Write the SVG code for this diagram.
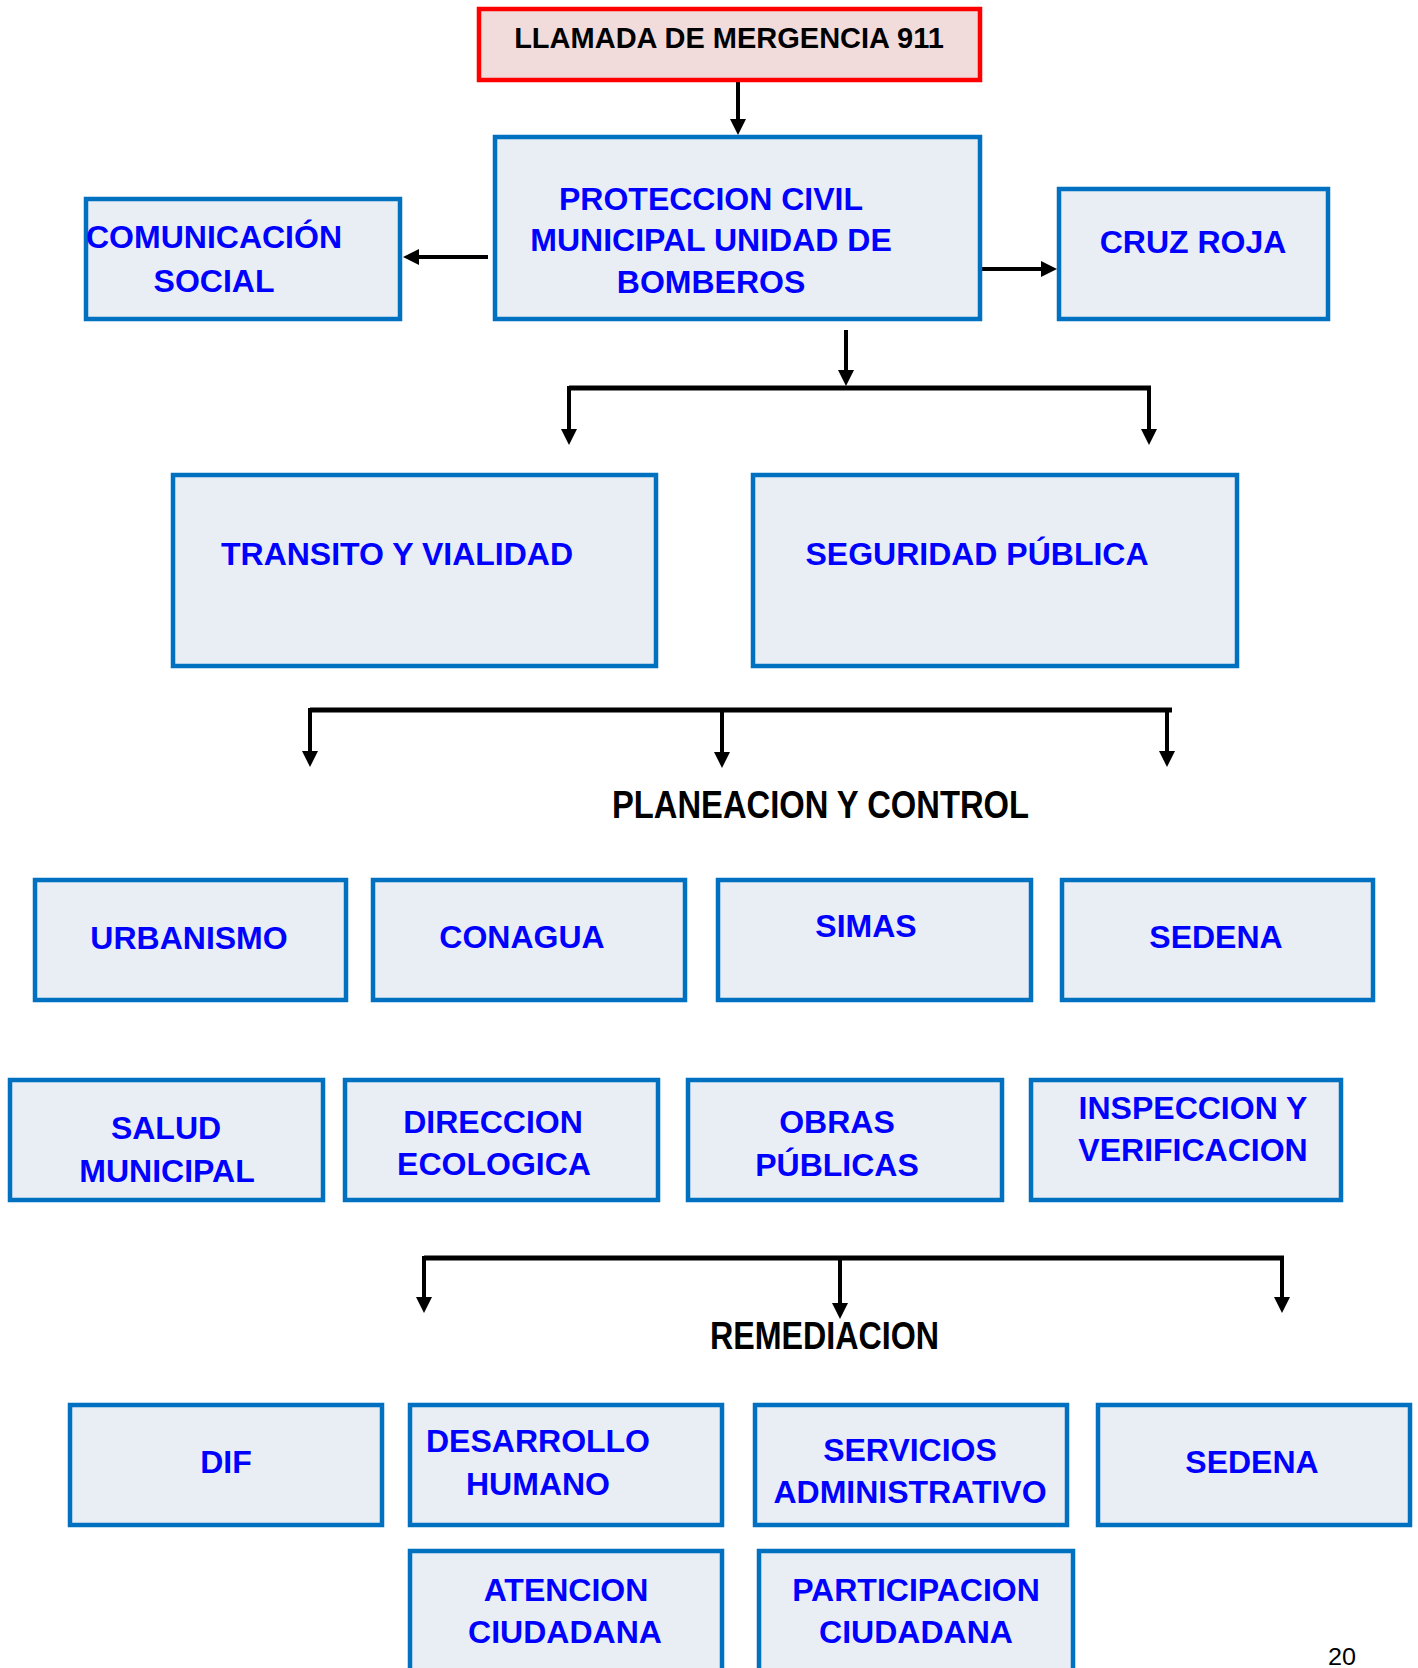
<svg xmlns="http://www.w3.org/2000/svg" width="1418" height="1668" viewBox="0 0 1418 1668">
<defs>
<style>
.box{fill:#E9EEF5;stroke:#0070C0;stroke-width:4.5}
.red{fill:#F2DCDB;stroke:#FF0000;stroke-width:4.5}
.t{font-family:"Liberation Sans",Arial,sans-serif;font-weight:bold;font-size:32px;fill:#0000FF;text-anchor:middle}
.tb{font-family:"Liberation Sans",Arial,sans-serif;font-weight:bold;font-size:29px;fill:#000;text-anchor:middle}
.lbl{font-family:"Liberation Sans Narrow","Liberation Sans",Arial,sans-serif;font-weight:bold;font-size:39px;fill:#000}
.pg{font-family:"Liberation Sans Narrow","Liberation Sans",Arial,sans-serif;font-size:24px;fill:#000}
.c{fill:none;stroke:#000;stroke-width:4}
.bar{fill:none;stroke:#000;stroke-width:5}
</style>
<marker id="ah" viewBox="0 0 16 16" refX="2" refY="8" markerWidth="16" markerHeight="16" markerUnits="userSpaceOnUse" orient="auto">
<path d="M0,0 L16,8 L0,16 Z" fill="#000"/>
</marker>
</defs>

<g id="connectors">
<line class="c" x1="738" y1="82" x2="738" y2="121" marker-end="url(#ah)"/>
<line class="c" x1="488" y1="257" x2="417" y2="257" marker-end="url(#ah)"/>
<line class="c" x1="982" y1="269" x2="1043" y2="269" marker-end="url(#ah)"/>
<line class="c" x1="846" y1="330" x2="846" y2="372" marker-end="url(#ah)"/>
<line class="bar" x1="569" y1="388" x2="1151" y2="388"/>
<line class="c" x1="569" y1="386" x2="569" y2="431" marker-end="url(#ah)"/>
<line class="c" x1="1149" y1="386" x2="1149" y2="431" marker-end="url(#ah)"/>
<line class="bar" x1="310" y1="710" x2="1172" y2="710"/>
<line class="c" x1="310" y1="708" x2="310" y2="753" marker-end="url(#ah)"/>
<line class="c" x1="722" y1="708" x2="722" y2="754" marker-end="url(#ah)"/>
<line class="c" x1="1167" y1="708" x2="1167" y2="753" marker-end="url(#ah)"/>
<line class="bar" x1="424" y1="1258" x2="1284" y2="1258"/>
<line class="c" x1="424" y1="1256" x2="424" y2="1299" marker-end="url(#ah)"/>
<line class="c" x1="840" y1="1256" x2="840" y2="1305" marker-end="url(#ah)"/>
<line class="c" x1="1282" y1="1256" x2="1282" y2="1299" marker-end="url(#ah)"/>
</g>

<g id="llamada"><rect class="red" x="479" y="9" width="501" height="71"/><text class="tb" x="729" y="48">LLAMADA DE MERGENCIA 911</text></g>
<g id="proteccion"><rect class="box" x="495" y="137" width="485" height="182"/>
<text class="t" x="711" y="210">PROTECCION CIVIL</text>
<text class="t" x="711" y="251">MUNICIPAL UNIDAD DE</text>
<text class="t" x="711" y="293">BOMBEROS</text></g>
<g id="comunicacion"><rect class="box" x="86" y="199" width="314" height="120"/>
<text class="t" x="214" y="248">COMUNICACIÓN</text>
<text class="t" x="214" y="292">SOCIAL</text></g>
<g id="cruzroja"><rect class="box" x="1059" y="189" width="269" height="130"/>
<text class="t" x="1193" y="253">CRUZ ROJA</text></g>
<g id="transito"><rect class="box" x="173" y="475" width="483" height="191"/>
<text class="t" x="397" y="565">TRANSITO Y VIALIDAD</text></g>
<g id="seguridad"><rect class="box" x="753" y="475" width="484" height="191"/>
<text class="t" x="977" y="565">SEGURIDAD PÚBLICA</text></g>

<g id="planeacion-label"><text class="lbl" x="612" y="818" textLength="417" lengthAdjust="spacingAndGlyphs">PLANEACION Y CONTROL</text></g>

<g id="urbanismo"><rect class="box" x="35" y="880" width="311" height="120"/><text class="t" x="189" y="949">URBANISMO</text></g>
<g id="conagua"><rect class="box" x="373" y="880" width="312" height="120"/><text class="t" x="522" y="948">CONAGUA</text></g>
<g id="simas"><rect class="box" x="718" y="880" width="313" height="120"/><text class="t" x="866" y="937">SIMAS</text></g>
<g id="sedena1"><rect class="box" x="1062" y="880" width="311" height="120"/><text class="t" x="1216" y="948">SEDENA</text></g>

<g id="salud"><rect class="box" x="10" y="1080" width="313" height="120"/>
<text class="t" x="166" y="1139">SALUD</text><text class="t" x="167" y="1182">MUNICIPAL</text></g>
<g id="direccion"><rect class="box" x="345" y="1080" width="313" height="120"/>
<text class="t" x="493" y="1133">DIRECCION</text><text class="t" x="494" y="1175">ECOLOGICA</text></g>
<g id="obras"><rect class="box" x="688" y="1080" width="314" height="120"/>
<text class="t" x="837" y="1133">OBRAS</text><text class="t" x="837" y="1176">PÚBLICAS</text></g>
<g id="inspeccion"><rect class="box" x="1031" y="1080" width="310" height="120"/>
<text class="t" x="1193" y="1119">INSPECCION Y</text><text class="t" x="1193" y="1161">VERIFICACION</text></g>

<g id="remediacion-label"><text class="lbl" x="710" y="1349" textLength="229" lengthAdjust="spacingAndGlyphs">REMEDIACION</text></g>

<g id="dif"><rect class="box" x="70" y="1405" width="312" height="120"/><text class="t" x="226" y="1473">DIF</text></g>
<g id="desarrollo"><rect class="box" x="410" y="1405" width="312" height="120"/>
<text class="t" x="538" y="1452">DESARROLLO</text><text class="t" x="538" y="1495">HUMANO</text></g>
<g id="servicios"><rect class="box" x="755" y="1405" width="312" height="120"/>
<text class="t" x="910" y="1461">SERVICIOS</text><text class="t" x="910" y="1503">ADMINISTRATIVO</text></g>
<g id="sedena2"><rect class="box" x="1098" y="1405" width="312" height="120"/><text class="t" x="1252" y="1473">SEDENA</text></g>

<g id="atencion"><rect class="box" x="410" y="1551" width="312" height="160"/>
<text class="t" x="566" y="1601">ATENCION</text><text class="t" x="565" y="1643">CIUDADANA</text></g>
<g id="participacion"><rect class="box" x="759" y="1551" width="314" height="160"/>
<text class="t" x="916" y="1601">PARTICIPACION</text><text class="t" x="916" y="1643">CIUDADANA</text></g>

<text class="pg" x="1328" y="1665" textLength="28" lengthAdjust="spacingAndGlyphs">20</text>
</svg>
